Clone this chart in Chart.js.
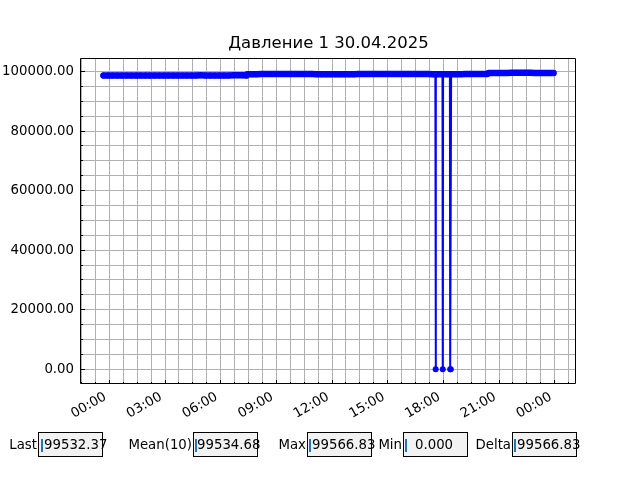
<!DOCTYPE html>
<html>
<head>
<meta charset="utf-8">
<title>Давление 1 30.04.2025</title>
<script src="https://cdn.jsdelivr.net/npm/chart.js@4.4.1/dist/chart.umd.min.js"></script>
<style>
    html, body { margin: 0; padding: 0; background: #fff; }
    #wrap { position: relative; width: 640px; height: 480px; overflow: hidden; font-family: 'DejaVu Sans', sans-serif; }
    #chart { position: absolute; left: 0; top: 0; }
    .stat-label, .stat-value { position: absolute; top: 432px; height: 25px; line-height: 25px; font-size: 13.3px; color: #000; white-space: nowrap; }
    .stat-label { text-align: right; }
    .stat-box { position: absolute; top: 432px; width: 65px; height: 25px; box-sizing: border-box; border: 1px solid #000; background: #f2f2f2; }
    .stat-cursor { position: absolute; top: 439px; width: 2px; height: 13px; background: #1f77b4; }
</style>
</head>
<body>
<div id="wrap">
    <canvas id="chart" width="640" height="480"></canvas>
    <div id="stats"></div>
</div>
<script>
// Sample times, minutes from 00:00 30.04.2025 (negative = evening before)
const sampleMinutes = [
    -19, -4, 11, 26, 41, 56, 71, 86, 101, 116, 131, 146, 161, 176, 191, 206,
    221, 236, 251, 266, 281, 296, 311, 326, 341, 356, 371, 386, 401, 416, 431, 444,
    446, 461, 476, 491, 506, 521, 536, 551, 566, 581, 596, 611, 626, 641, 656, 671,
    686, 701, 716, 731, 746, 761, 776, 791, 806, 821, 836, 851, 866, 881, 896, 911,
    926, 941, 956, 971, 986, 1001, 1016, 1031, 1046,
    1054, 1055, 1056, 1061, 1076, 1077, 1078, 1079, 1091, 1101, 1102, 1104, 1105,
    1121, 1136, 1151, 1166, 1181, 1196, 1211, 1222,
    1226, 1241, 1256, 1271, 1286, 1301, 1316, 1331, 1346, 1361, 1376, 1391, 1406, 1421, 1436
];

// Pressure readings, Pa
const pressureValues = [
    98700, 98690, 98685, 98680, 98670, 98665, 98660, 98665, 98675, 98680, 98690, 98695, 98700, 98705, 98700, 98695,
    98690, 98685, 98690, 98700, 98705, 98710, 98705, 98700, 98695, 98690, 98695, 98700, 98710, 98715, 98710, 98705,
    99100, 99110, 99120, 99130, 99140, 99150, 99160, 99170, 99175, 99180, 99170, 99160, 99150, 99140, 99130, 99120,
    99110, 99100, 99090, 99085, 99090, 99100, 99110, 99120, 99130, 99140, 99150, 99155, 99160, 99165, 99170, 99175,
    99180, 99185, 99180, 99170, 99160, 99150, 99140, 99130, 99125,
    99120, 0, 99120, 99115, 99110, 99110, 0, 99110, 99105, 99100, 0, 0, 99100,
    99110, 99120, 99130, 99140, 99150, 99160, 99170, 99175,
    99500, 99510, 99520, 99530, 99540, 99550, 99560, 99566.83, 99560, 99550, 99545, 99540, 99535, 99535, 99532.37
];

// Text boxes under the plot
const statLabels = ['Last', 'Mean(10)', 'Max', 'Min', 'Delta'];
const statValues = ['99532.37', '99534.68', '99566.83', '0.000', '99566.83'];

const chartTitle = 'Давление 1 30.04.2025';

// Tick steps: hours on x, Pa on y
const xMajorStep = 3;
const xMinorStep = 0.75;
const yMajorStep = 20000;
const yMinorStep = 5000;

// Layout of the text boxes (px)
const statBoxLeft = [38, 193, 307, 403, 512];
const statCursorLeft = [41, 195, 309, 405, 514];
const statTextLeft = [44, 197, 312, 415, 517];

const ChartHelpers = {
    /**
     * Ticks at every multiple of step inside [min, max]
     */
    stepTicks(min, max, step) {
        const ticks = [];
        for (let v = Math.ceil(min / step) * step; v <= max + 1e-9; v += step) {
            ticks.push({ value: Math.round(v * 1000) / 1000 });
        }
        return ticks;
    },

    isMajor(value, step) {
        return Math.abs(value / step - Math.round(value / step)) < 1e-6;
    },

    hourLabel(value) {
        const h = ((Math.round(value) % 24) + 24) % 24;
        return `${h.toString().padStart(2, '0')}:00`;
    },

    // matplotlib-like 5% margins around the data
    paddedRange(values) {
        const lo = Math.min(...values);
        const hi = Math.max(...values);
        const pad = (hi - lo) * 0.05;
        return { min: lo - pad, max: hi + pad };
    },

    alignPixel(px) {
        return Math.round(px - 0.5) + 0.5;
    }
};

// Title centred over the plot area
const centeredTitle = {
    id: 'centeredTitle',
    afterDraw(chart) {
        const { ctx, chartArea: a } = chart;
        ctx.save();
        ctx.font = "16.5px 'DejaVu Sans'";
        ctx.fillStyle = '#000';
        ctx.textAlign = 'center';
        ctx.textBaseline = 'middle';
        ctx.fillText(chartTitle, (a.left + a.right) / 2, 44);
        ctx.restore();
    }
};

// Black frame plus short inward tick marks
const frameAndTicks = {
    id: 'frameAndTicks',
    afterDraw(chart) {
        const { ctx, chartArea: a, scales } = chart;
        ctx.save();
        ctx.strokeStyle = '#000';
        ctx.lineWidth = 1;
        ctx.beginPath();
        scales.x.ticks.forEach(t => {
            const px = ChartHelpers.alignPixel(scales.x.getPixelForValue(t.value));
            const len = ChartHelpers.isMajor(t.value, xMajorStep) ? 4 : 2;
            ctx.moveTo(px, a.bottom);
            ctx.lineTo(px, a.bottom - len);
        });
        scales.y.ticks.forEach(t => {
            const py = ChartHelpers.alignPixel(scales.y.getPixelForValue(t.value));
            const len = ChartHelpers.isMajor(t.value, yMajorStep) ? 4 : 2;
            ctx.moveTo(a.left, py);
            ctx.lineTo(a.left + len, py);
        });
        ctx.stroke();
        ctx.beginPath();
        ctx.rect(a.left - 0.5, a.top + 0.5, a.right - a.left, a.bottom - a.top - 1);
        ctx.stroke();
        ctx.restore();
    }
};

const points = sampleMinutes.map((m, i) => ({ x: m / 60, y: pressureValues[i] }));
const xRange = ChartHelpers.paddedRange(points.map(p => p.x));
const yRange = ChartHelpers.paddedRange(pressureValues);
const tickFont = { family: 'DejaVu Sans', size: 13.3 };

// dense samples look like a thick band; the dropouts stay thin
const segmentWidth = ctx => (ctx.p0.parsed.y === 0 || ctx.p1.parsed.y === 0) ? 2 : 6.5;

new Chart(document.getElementById('chart'), {
    type: 'line',
    data: {
        datasets: [{
            data: points,
            borderColor: '#0000ff',
            backgroundColor: '#0000ff',
            borderWidth: 2,
            borderCapStyle: 'round',
            borderJoinStyle: 'round',
            segment: { borderWidth: segmentWidth },
            pointRadius: 3,
            pointHoverRadius: 3,
            pointBorderWidth: 0,
            pointBackgroundColor: '#0000ff',
            tension: 0,
            fill: false
        }]
    },
    options: {
        responsive: false,
        animation: false,
        events: [],
        devicePixelRatio: 1,
        layout: { padding: { left: 0, right: 64, top: 58, bottom: 0 } },
        plugins: {
            legend: { display: false },
            tooltip: { enabled: false },
            title: { display: false }
        },
        scales: {
            x: {
                type: 'linear',
                min: xRange.min,
                max: xRange.max,
                afterBuildTicks: s => { s.ticks = ChartHelpers.stepTicks(s.min, s.max, xMinorStep); },
                afterFit: s => { s.height = 96; s.paddingLeft = 0; s.paddingRight = 0; },
                border: { display: false },
                grid: { color: '#b0b0b0', lineWidth: 1, drawTicks: false },
                ticks: {
                    autoSkip: false,
                    minRotation: 30,
                    maxRotation: 30,
                    padding: 5,
                    labelOffset: -4,
                    color: '#000',
                    font: tickFont,
                    callback: v => ChartHelpers.isMajor(v, xMajorStep) ? ChartHelpers.hourLabel(v) : ''
                }
            },
            y: {
                type: 'linear',
                min: yRange.min,
                max: yRange.max,
                afterBuildTicks: s => { s.ticks = ChartHelpers.stepTicks(s.min, s.max, yMinorStep); },
                afterFit: s => { s.width = 81; s.paddingTop = 0; s.paddingBottom = 0; },
                border: { display: false },
                grid: { color: '#b0b0b0', lineWidth: 1, drawTicks: false },
                ticks: {
                    autoSkip: false,
                    padding: 7,
                    color: '#000',
                    font: tickFont,
                    callback: v => ChartHelpers.isMajor(v, yMajorStep) ? v.toFixed(2) : ''
                }
            }
        }
    },
    plugins: [centeredTitle, frameAndTicks]
});

// Text boxes: label, grey box, blue cursor, value
const stats = document.getElementById('stats');
statLabels.forEach((label, i) => {
    const lbl = document.createElement('div');
    lbl.className = 'stat-label';
    lbl.style.right = (640 - statBoxLeft[i] + 1) + 'px';
    lbl.textContent = label;
    stats.appendChild(lbl);

    const box = document.createElement('div');
    box.className = 'stat-box';
    box.style.left = statBoxLeft[i] + 'px';
    stats.appendChild(box);

    const cursor = document.createElement('div');
    cursor.className = 'stat-cursor';
    cursor.style.left = statCursorLeft[i] + 'px';
    stats.appendChild(cursor);

    const val = document.createElement('div');
    val.className = 'stat-value';
    val.style.left = statTextLeft[i] + 'px';
    val.textContent = statValues[i];
    stats.appendChild(val);
});
</script>
</body>
</html>
